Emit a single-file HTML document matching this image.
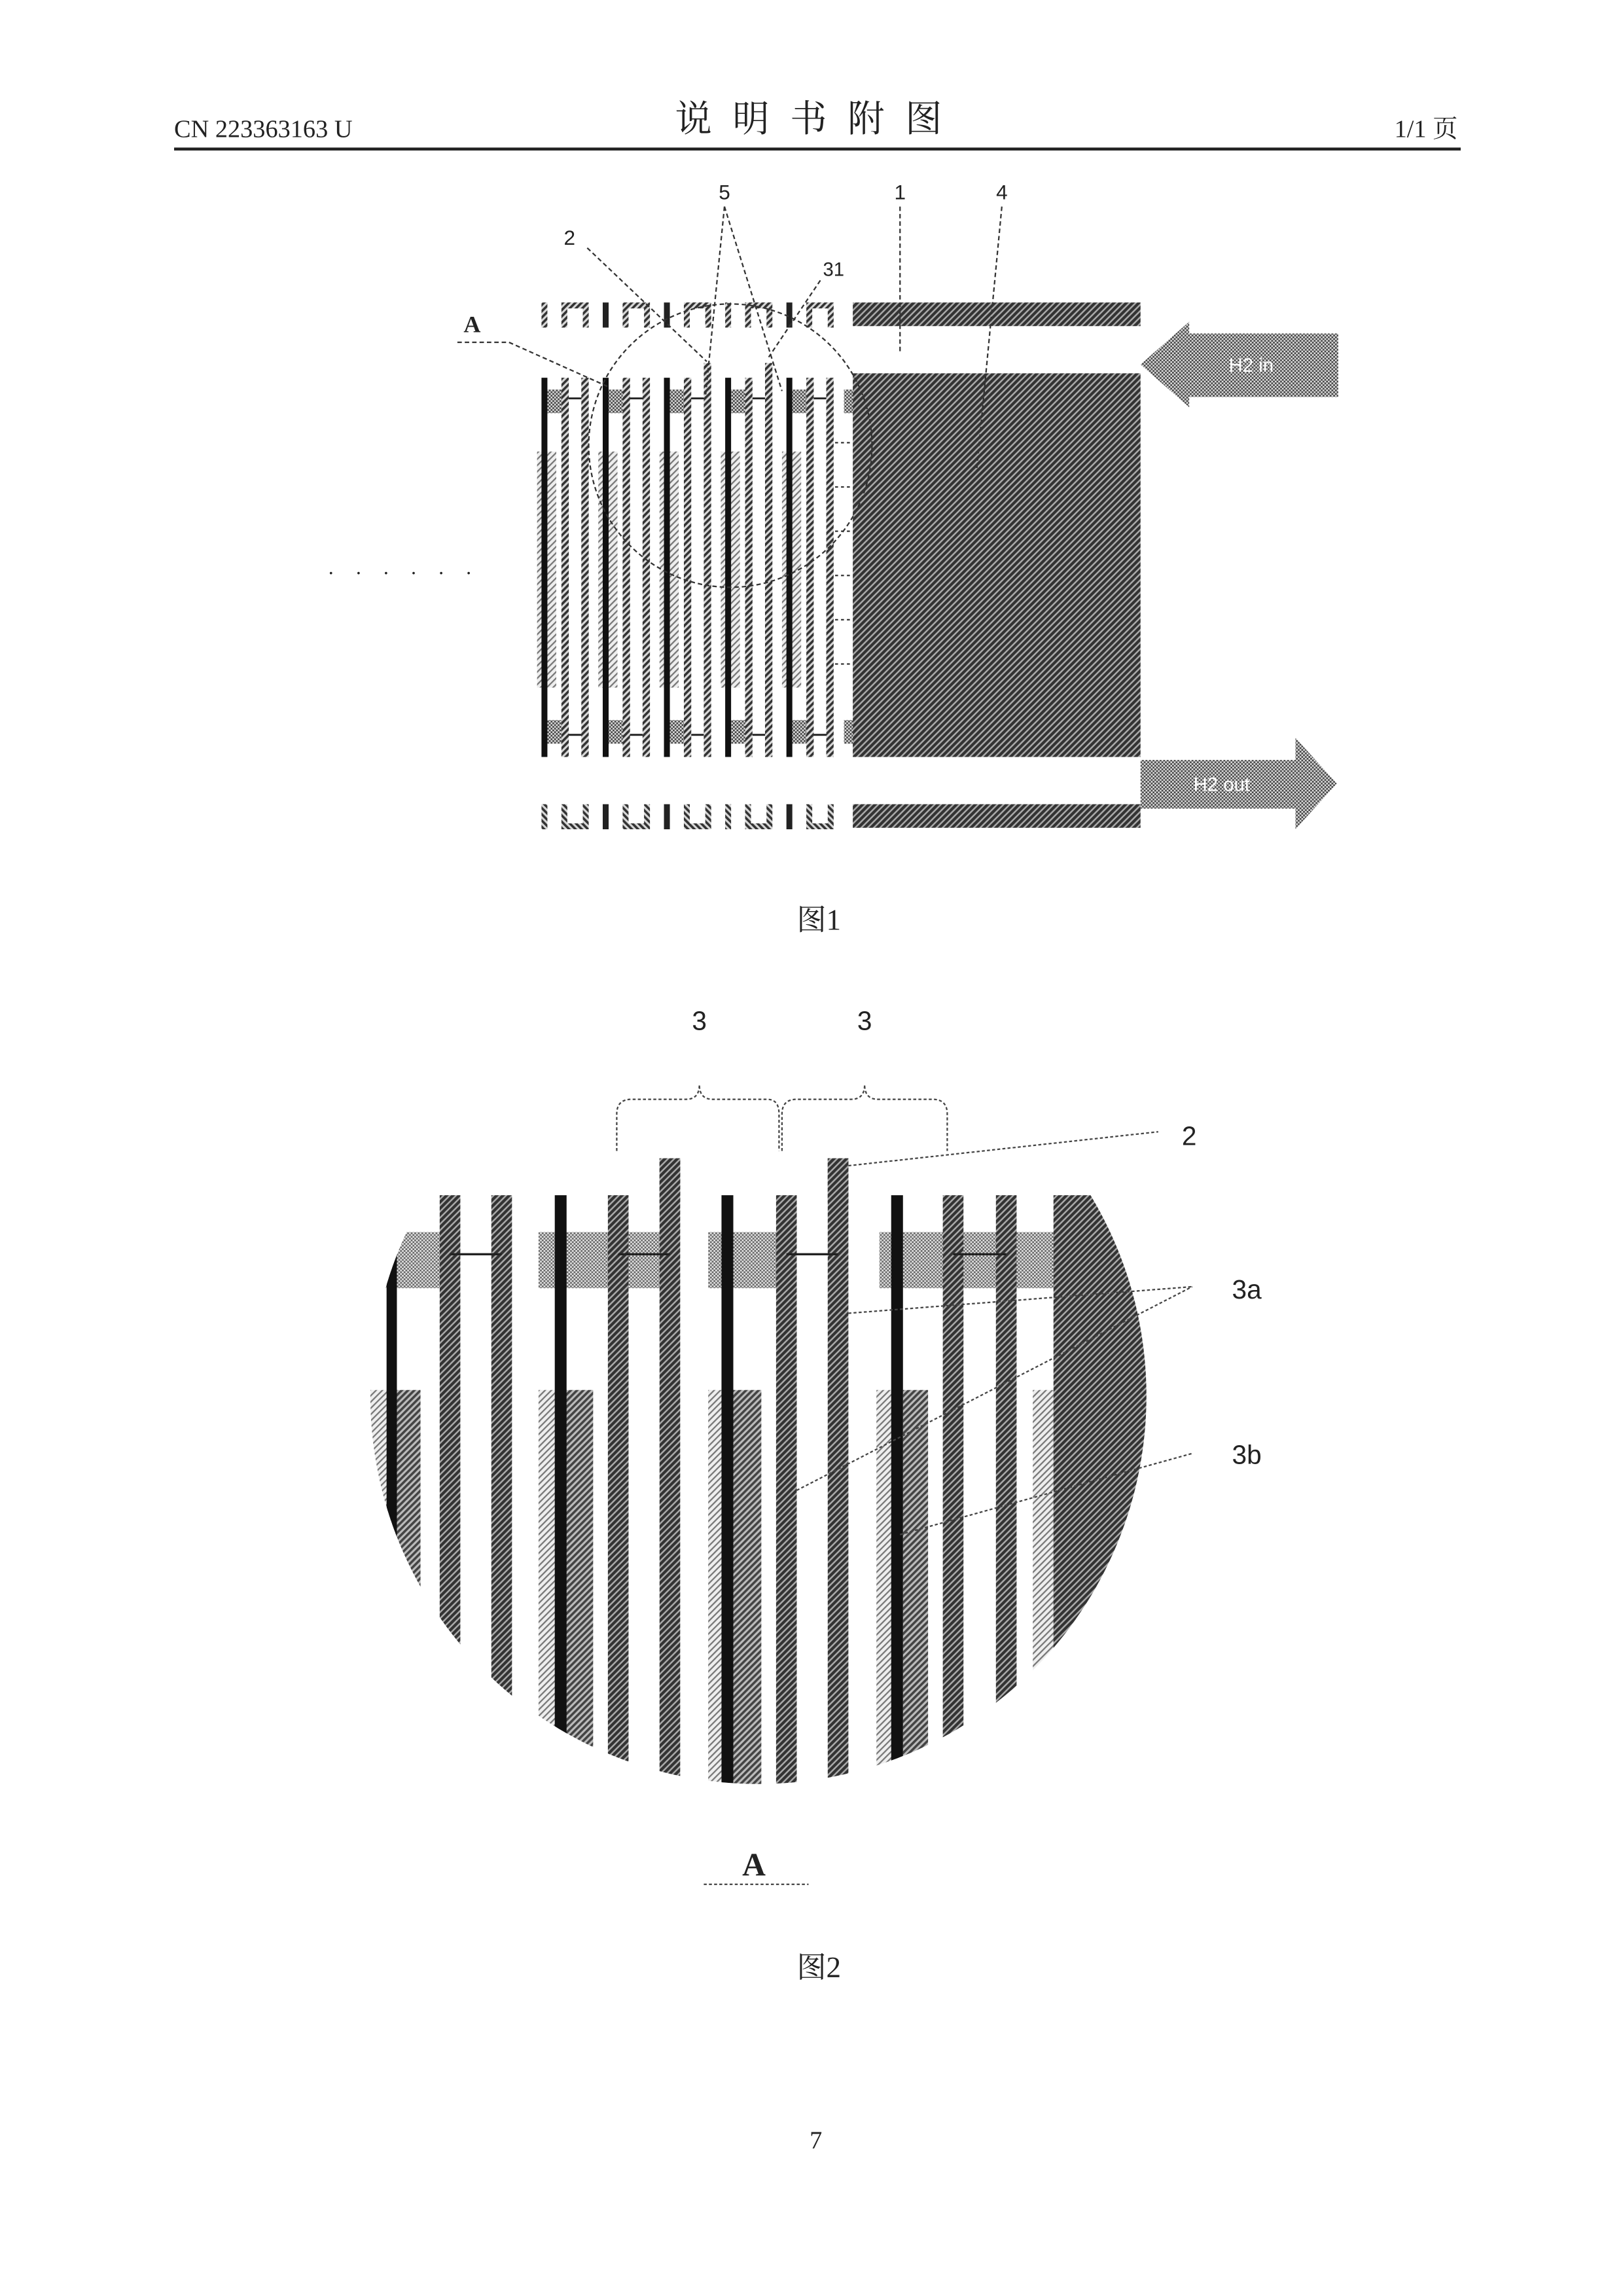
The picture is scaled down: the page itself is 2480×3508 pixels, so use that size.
<!DOCTYPE html>
<html><head><meta charset="utf-8"><style>
html,body{margin:0;padding:0;background:#fff}
svg{display:block}
text{font-family:"Liberation Serif","Noto Serif CJK SC",serif;fill:#222}
.s{font-family:"Liberation Sans","Noto Sans CJK SC",sans-serif}
</style></head><body>
<svg width="2480" height="3508" viewBox="0 0 1100 1556" preserveAspectRatio="none" xmlns="http://www.w3.org/2000/svg">
<defs>
<pattern id="h" width="3" height="3" patternUnits="userSpaceOnUse" patternTransform="rotate(45)">
<rect width="3" height="3" fill="#d8d8d8"/><rect width="1.6" height="3" fill="#333"/></pattern>
<pattern id="hd" width="3" height="3" patternUnits="userSpaceOnUse" patternTransform="rotate(45)">
<rect width="3" height="3" fill="#aaa"/><rect width="1.9" height="3" fill="#333"/></pattern>
<pattern id="hm" width="3" height="3" patternUnits="userSpaceOnUse" patternTransform="rotate(45)">
<rect width="3" height="3" fill="#bbb"/><rect width="1.6" height="3" fill="#444"/></pattern>
<pattern id="dot" width="2.4" height="2.4" patternUnits="userSpaceOnUse">
<rect width="2.4" height="2.4" fill="#ddd"/><rect width="1.2" height="1.2" fill="#444"/><rect x="1.2" y="1.2" width="1.2" height="1.2" fill="#444"/></pattern>
<pattern id="dotl" width="2.4" height="2.4" patternUnits="userSpaceOnUse">
<rect width="2.4" height="2.4" fill="#e4e4e4"/><rect width="1.2" height="1.2" fill="#666"/><rect x="1.2" y="1.2" width="1.2" height="1.2" fill="#666"/></pattern>
<pattern id="lt" width="3" height="3" patternUnits="userSpaceOnUse" patternTransform="rotate(45)">
<rect width="3" height="3" fill="#eee"/><rect width="1" height="3" fill="#777"/></pattern>
<clipPath id="cc"><circle cx="514" cy="946" r="263"/></clipPath>
</defs>

<!-- header -->
<text x="118" y="93" font-size="17">CN 223363163 U</text>
<text x="555" y="89" font-size="25" text-anchor="middle" letter-spacing="14">说明书附图</text>
<text x="988" y="93" font-size="17" text-anchor="end">1/1 页</text>
<rect x="118" y="100" width="872" height="2" fill="#222"/>

<!-- FIG 1 -->
<g id="f1">
<g fill="url(#lt)">
<rect x="364" y="306" width="13" height="160"/><rect x="405.5" y="306" width="13" height="160"/>
<rect x="447" y="306" width="13" height="160"/><rect x="488.5" y="306" width="13" height="160"/>
<rect x="530" y="306" width="13" height="160"/>
</g>
<g fill="url(#dot)">
<rect x="371" y="264" width="10" height="16"/><rect x="412.5" y="264" width="10" height="16"/><rect x="454" y="264" width="10" height="16"/><rect x="495.5" y="264" width="10" height="16"/><rect x="537" y="264" width="10" height="16"/><rect x="572" y="264" width="6" height="16"/>
<rect x="371" y="488" width="10" height="16"/><rect x="412.5" y="488" width="10" height="16"/><rect x="454" y="488" width="10" height="16"/><rect x="495.5" y="488" width="10" height="16"/><rect x="537" y="488" width="10" height="16"/><rect x="572" y="488" width="6" height="16"/>
</g>
<g stroke="#222" stroke-width="1.3">
<line x1="383" y1="270" x2="396" y2="270"/><line x1="424.5" y1="270" x2="437.5" y2="270"/><line x1="466" y1="270" x2="479" y2="270"/><line x1="507.5" y1="270" x2="520.5" y2="270"/><line x1="549" y1="270" x2="562" y2="270"/>
<line x1="383" y1="498" x2="396" y2="498"/><line x1="424.5" y1="498" x2="437.5" y2="498"/><line x1="466" y1="498" x2="479" y2="498"/><line x1="507.5" y1="498" x2="520.5" y2="498"/><line x1="549" y1="498" x2="562" y2="498"/>
</g>
<g fill="#111">
<rect x="367" y="256" width="4" height="257"/><rect x="408.5" y="256" width="4" height="257"/><rect x="450" y="256" width="4" height="257"/><rect x="491.5" y="256" width="4" height="257"/><rect x="533" y="256" width="4" height="257"/>
</g>
<g fill="url(#h)">
<rect x="380.5" y="256" width="5" height="257"/><rect x="394" y="256" width="5" height="257"/>
<rect x="422" y="256" width="5" height="257"/><rect x="435.5" y="256" width="5" height="257"/>
<rect x="463.5" y="256" width="5" height="257"/><rect x="477" y="246" width="5" height="267"/>
<rect x="505" y="256" width="5" height="257"/><rect x="518.5" y="246" width="5" height="267"/>
<rect x="546.5" y="256" width="5" height="257"/><rect x="560" y="256" width="5" height="257"/>
</g>
<g id="comb">
<rect x="367" y="205" width="4" height="17" fill="url(#h)"/>
<rect x="408.5" y="205" width="4" height="17" fill="#222"/><rect x="450" y="205" width="4" height="17" fill="#222"/><rect x="491.5" y="205" width="4" height="17" fill="url(#h)"/><rect x="533" y="205" width="4" height="17" fill="#222"/>
<path d="M380.5 222V205H399V222H395V209H384.5V222Z" fill="url(#h)"/>
<path d="M422 222V205H440.5V222H436.5V209H426V222Z" fill="url(#h)"/>
<path d="M463.5 222V205H482V222H478V209H467.5V222Z" fill="url(#h)"/>
<path d="M505 222V205H523.5V222H519.5V209H509V222Z" fill="url(#h)"/>
<path d="M546.5 222V205H565V222H561V209H550.5V222Z" fill="url(#h)"/>
</g>
<g transform="translate(0,767) scale(1,-1)"><use href="#comb"/></g>
<rect x="578" y="205" width="195" height="16" fill="url(#hd)"/>
<rect x="578" y="545" width="195" height="16" fill="url(#hd)"/>
<rect x="578" y="253" width="195" height="260" fill="url(#hd)"/>
<g stroke="#333" stroke-width="1" stroke-dasharray="2,2">
<line x1="566" y1="300" x2="578" y2="300"/><line x1="566" y1="330" x2="578" y2="330"/><line x1="566" y1="360" x2="578" y2="360"/><line x1="566" y1="390" x2="578" y2="390"/><line x1="566" y1="420" x2="578" y2="420"/><line x1="566" y1="450" x2="578" y2="450"/>
</g>
<path d="M773 247L806 218V226H907V269H806V276Z" fill="url(#dot)"/>
<text x="848" y="252" font-size="13" class="s" style="fill:#fff" text-anchor="middle">H2 in</text>
<path d="M773 515H878V500L906 531L878 562V548H773Z" fill="url(#dot)"/>
<text x="828" y="536" font-size="13" class="s" style="fill:#fff" text-anchor="middle">H2 out</text>
<circle cx="495" cy="302" r="96" fill="none" stroke="#333" stroke-width="1" stroke-dasharray="3,2"/>
<g stroke="#333" stroke-width="1" stroke-dasharray="3,2" fill="none">
<line x1="398" y1="168" x2="479" y2="245"/>
<line x1="491" y1="140" x2="478" y2="270"/><line x1="491" y1="140" x2="530" y2="265"/>
<line x1="556" y1="190" x2="521" y2="242"/>
<line x1="610" y1="140" x2="610" y2="240"/>
<line x1="679" y1="140" x2="662" y2="318"/>
<line x1="310" y1="232" x2="345" y2="232"/><line x1="345" y1="232" x2="412" y2="262"/>
</g>
<text x="386" y="166" font-size="14" class="s" text-anchor="middle">2</text>
<text x="491" y="135" font-size="14" class="s" text-anchor="middle">5</text>
<text x="565" y="187" font-size="13" class="s" text-anchor="middle">31</text>
<text x="610" y="135" font-size="14" class="s" text-anchor="middle">1</text>
<text x="679" y="135" font-size="14" class="s" text-anchor="middle">4</text>
<text x="320" y="225" font-size="16" font-weight="bold" text-anchor="middle">A</text>
<text x="278" y="393" font-size="14" text-anchor="middle" letter-spacing="14">······</text>
<text x="555" y="630" font-size="20" text-anchor="middle">图1</text>
</g>

<!-- FIG 2 -->
<g clip-path="url(#cc)">
<g fill="url(#dotl)">
<rect x="250" y="835" width="50" height="38"/><rect x="365" y="835" width="95" height="38"/><rect x="480" y="835" width="55" height="38"/><rect x="596" y="835" width="120" height="38"/>
</g>
<g fill="url(#lt)">
<rect x="248" y="942" width="18" height="300"/><rect x="365" y="942" width="18" height="300"/><rect x="480" y="942" width="18" height="300"/><rect x="594" y="942" width="18" height="300"/>
<rect x="700" y="942" width="16" height="300"/>
</g>
<g fill="url(#hm)">
<rect x="266" y="942" width="19" height="300"/><rect x="383" y="942" width="19" height="300"/><rect x="497" y="942" width="19" height="300"/><rect x="612" y="942" width="17" height="300"/>
</g>
<g fill="#111">
<rect x="262" y="835" width="7" height="400"/><rect x="376" y="810" width="8" height="420"/><rect x="489" y="810" width="8" height="420"/><rect x="604" y="810" width="8" height="420"/>
</g>
<g fill="url(#hd)">
<rect x="298" y="810" width="14" height="420"/><rect x="333" y="810" width="14" height="420"/>
<rect x="412" y="810" width="14" height="420"/><rect x="447" y="785" width="14" height="445"/>
<rect x="526" y="810" width="14" height="420"/><rect x="561" y="785" width="14" height="445"/>
<rect x="639" y="810" width="14" height="420"/><rect x="675" y="810" width="14" height="420"/>
<rect x="714" y="810" width="70" height="420"/>
</g>
<g stroke="#222" stroke-width="1.5">
<line x1="305" y1="850" x2="340" y2="850"/><line x1="419" y1="850" x2="454" y2="850"/><line x1="533" y1="850" x2="568" y2="850"/><line x1="646" y1="850" x2="682" y2="850"/>
</g>
</g>
<rect x="447" y="785" width="14" height="30" fill="url(#hd)"/><rect x="561" y="785" width="14" height="30" fill="url(#hd)"/>
<g stroke="#444" stroke-width="1" fill="none" stroke-dasharray="2,1.5">
<path d="M418 780V755Q418 745 428 745H465Q474 745 474 735Q474 745 483 745H520Q528 745 528 755V780"/>
<path d="M530 780V755Q530 745 540 745H577Q586 745 586 735Q586 745 595 745H632Q642 745 642 755V780"/>
<line x1="575" y1="790" x2="785" y2="767"/>
<line x1="575" y1="890" x2="808" y2="872"/><line x1="540" y1="1010" x2="808" y2="872"/>
<line x1="610" y1="1040" x2="808" y2="985"/>
<line x1="477" y1="1277" x2="548" y2="1277"/>
</g>
<text x="474" y="698" font-size="18" class="s" text-anchor="middle">3</text>
<text x="586" y="698" font-size="18" class="s" text-anchor="middle">3</text>
<text x="806" y="776" font-size="18" class="s" text-anchor="middle">2</text>
<text x="845" y="880" font-size="18" class="s" text-anchor="middle">3a</text>
<text x="845" y="992" font-size="18" class="s" text-anchor="middle">3b</text>
<text x="511" y="1271" font-size="22" font-weight="bold" text-anchor="middle">A</text>
<text x="555" y="1340" font-size="20" text-anchor="middle">图2</text>
<text x="553" y="1456" font-size="17" text-anchor="middle">7</text>
</svg>
</body></html>
